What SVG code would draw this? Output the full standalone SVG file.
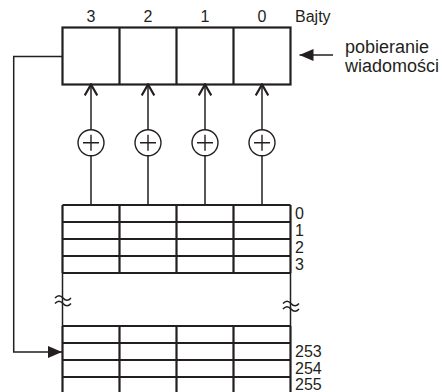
<svg xmlns="http://www.w3.org/2000/svg" width="442" height="392" viewBox="0 0 442 392">
<defs>
<style>
.t{font-family:"Liberation Sans",Arial,sans-serif;fill:#231f20}
.thick{fill:none;stroke:#231f20;stroke-width:2.2}
.thin{fill:none;stroke:#231f20;stroke-width:1.5}
.lbl{font-size:16px}
.col{font-size:16px}
.msg{font-size:18px}
</style>
<marker id="fill" viewBox="0 0 14 12" refX="14" refY="6" markerWidth="14" markerHeight="12" markerUnits="userSpaceOnUse" orient="auto">
<path d="M0,0 L14,6 L0,12 Z" fill="#231f20"/>
</marker>
<marker id="open" viewBox="0 0 14 14" refX="12" refY="7" markerWidth="14" markerHeight="14" markerUnits="userSpaceOnUse" orient="auto">
<path d="M1,0.7 L12,7 L1,13.3" fill="none" stroke="#231f20" stroke-width="2.2"/>
</marker>
<g id="xor">
<circle cx="0" cy="0" r="13" fill="#fff" stroke="#231f20" stroke-width="1.4"/>
<path d="M-8,0 H8 M0,-8 V8" stroke="#231f20" stroke-width="1.4"/>
</g>
</defs>
<rect width="442" height="392" fill="#fff"/>

<g id="register">
<rect class="thick" x="62.5" y="27.5" width="228" height="57"/>
<path class="thick" d="M119.5,27.5 V84.5 M176.5,27.5 V84.5 M233.5,27.5 V84.5"/>
<text class="t col" x="91" y="21.5" text-anchor="middle">3</text>
<text class="t col" x="148" y="21.5" text-anchor="middle">2</text>
<text class="t col" x="205" y="21.5" text-anchor="middle">1</text>
<text class="t col" x="262" y="21.5" text-anchor="middle">0</text>
<text class="t lbl" x="295" y="21.5">Bajty</text>
</g>

<g id="message-input">
<text class="t msg" x="345" y="53">pobieranie</text>
<text class="t msg" x="345" y="72">wiadomości</text>
</g>

<g id="xor0"><use href="#xor" x="91" y="142.7"/></g>
<g id="xor1"><use href="#xor" x="148" y="142.7"/></g>
<g id="xor2"><use href="#xor" x="205" y="142.7"/></g>
<g id="xor3"><use href="#xor" x="262" y="142.7"/></g>

<g id="table-top">
<path class="thick" d="M62.5,205 H290.5 M62.5,222 H290.5 M62.5,239 H290.5 M62.5,256 H290.5 M62.5,273 H290.5"/>
<path class="thick" d="M62.5,205 V273 M119.5,205 V273 M176.5,205 V273 M233.5,205 V273 M290.5,205 V273"/>
<text class="t lbl" x="295" y="219">0</text>
<text class="t lbl" x="295" y="236">1</text>
<text class="t lbl" x="295" y="253">2</text>
<text class="t lbl" x="295" y="270">3</text>
</g>

<g id="table-gap">
<path class="thin" d="M62.5,273 V326 M290.5,273 V326"/>
<path class="thin" d="M55,298 q4,-4.5 8,0 t8,0 M55,303.5 q4,-4.5 8,0 t8,0"/>
<path class="thin" d="M283,303.5 q4,-4.5 8,0 t8,0 M283,309 q4,-4.5 8,0 t8,0"/>
</g>

<g id="table-bottom">
<path class="thick" d="M62.5,326 H290.5 M62.5,343 H290.5 M62.5,360 H290.5 M62.5,377 H290.5"/>
<path class="thick" d="M62.5,326 V394 M119.5,326 V394 M176.5,326 V394 M233.5,326 V394 M290.5,326 V394"/>
<text class="t lbl" x="295" y="357">253</text>
<text class="t lbl" x="295" y="374">254</text>
<text class="t lbl" x="295" y="390">255</text>
</g>

<g id="connectors">
<path class="thin" d="M333,55 H299.5" marker-end="url(#fill)"/>
<path class="thin" d="M62.5,56.5 H13.7 V352 H62" marker-end="url(#fill)"/>
<path class="thin" d="M91,129.7 V84.5" marker-end="url(#open)"/>
<path class="thin" d="M148,129.7 V84.5" marker-end="url(#open)"/>
<path class="thin" d="M205,129.7 V84.5" marker-end="url(#open)"/>
<path class="thin" d="M262,129.7 V84.5" marker-end="url(#open)"/>
<path class="thin" d="M91,155.7 V205 M148,155.7 V205 M205,155.7 V205 M262,155.7 V205"/>
</g>
</svg>
